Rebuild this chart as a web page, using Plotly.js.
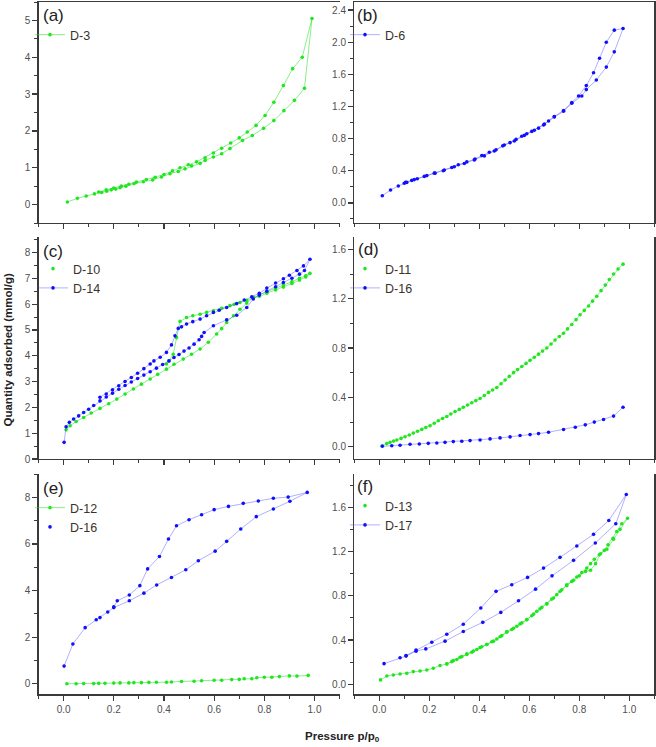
<!DOCTYPE html>
<html>
<head>
<meta charset="utf-8">
<script src="https://cdn.plot.ly/plotly-3.0.1.min.js"></script>
<style>
  html, body { margin: 0; padding: 0; background: #fff; }
  #chart { width: 656px; height: 747px; }
</style>
</head>
<body>
<div id="chart"></div>
<script>
// ---------- isotherm data (pressure p/p0, quantity adsorbed mmol/g) ----------
// each series runs along the adsorption branch and back down the desorption branch

// (a) D-3
const D3_p = [0.015,0.055,0.09,0.123,0.152,0.172,0.19,0.208,0.225,0.248,0.281,0.318,0.355,0.39,0.424,0.457,0.484,0.51,0.544,0.564,0.597,0.63,0.663,0.713,0.752,0.797,0.838,0.878,0.92,0.96,0.99,
              0.951,0.913,0.876,0.838,0.803,0.767,0.732,0.70,0.666,0.63,0.597,0.564,0.53,0.497,0.464,0.434,0.40,0.365,0.33,0.29,0.26,0.23,0.20,0.17,0.14];
const D3_q = [0.07,0.17,0.235,0.29,0.33,0.36,0.40,0.42,0.46,0.50,0.57,0.62,0.67,0.75,0.84,0.90,0.97,1.05,1.12,1.20,1.29,1.38,1.52,1.74,1.875,2.07,2.28,2.55,2.83,3.16,5.05,
              4.0,3.69,3.23,2.78,2.42,2.15,1.97,1.81,1.67,1.53,1.40,1.27,1.16,1.08,1.0,0.915,0.815,0.74,0.68,0.61,0.55,0.50,0.45,0.40,0.34];

// (b) D-6
const D6_p = [0.012,0.045,0.076,0.10,0.11,0.13,0.152,0.19,0.223,0.256,0.29,0.316,0.35,0.383,0.41,0.44,0.467,0.494,0.523,0.547,0.57,0.59,0.61,0.637,0.657,0.677,0.70,0.737,0.77,0.81,0.828,0.868,0.908,0.94,0.975,
              0.94,0.908,0.881,0.857,0.828,0.797,0.77,0.737,0.70,0.66,0.62,0.58,0.54,0.50,0.46,0.42,0.38,0.34,0.30,0.26,0.22,0.18,0.14,0.105];
const D6_q = [0.09,0.16,0.21,0.245,0.255,0.28,0.30,0.34,0.37,0.40,0.44,0.475,0.51,0.545,0.59,0.63,0.66,0.71,0.75,0.79,0.83,0.86,0.89,0.93,0.97,1.02,1.07,1.14,1.24,1.33,1.41,1.53,1.69,1.88,2.17,
              2.15,2.0,1.80,1.62,1.46,1.33,1.25,1.15,1.075,0.98,0.905,0.84,0.77,0.72,0.645,0.585,0.535,0.49,0.45,0.41,0.37,0.33,0.29,0.255];

// (c) D-10
const D10_p = [0.01,0.026,0.05,0.08,0.11,0.145,0.18,0.212,0.245,0.278,0.31,0.345,0.375,0.41,0.44,0.477,0.51,0.544,0.577,0.61,0.63,0.65,0.677,0.703,0.73,0.756,0.78,0.81,0.845,0.876,0.91,0.94,0.965,0.982,
               0.965,0.94,0.91,0.876,0.845,0.81,0.78,0.756,0.73,0.703,0.68,0.663,0.63,0.597,0.57,0.544,0.515,0.49,0.464,0.45,0.437,0.42,0.41];
const D10_q = [1.13,1.29,1.45,1.61,1.78,1.96,2.14,2.32,2.52,2.71,2.90,3.10,3.28,3.48,3.67,3.87,4.06,4.26,4.52,4.84,5.05,5.29,5.55,5.80,6.04,6.26,6.30,6.42,6.55,6.66,6.80,6.93,7.05,7.19,
               7.10,7.0,6.87,6.74,6.62,6.49,6.36,6.24,6.14,6.06,5.99,5.94,5.84,5.74,5.68,5.61,5.55,5.48,5.33,4.70,4.06,3.80,3.68];

// (c) D-14
const D14_p = [0.002,0.01,0.023,0.04,0.06,0.08,0.10,0.12,0.145,0.17,0.195,0.22,0.245,0.27,0.295,0.32,0.345,0.37,0.395,0.42,0.44,0.46,0.48,0.50,0.52,0.54,0.55,0.56,0.597,0.65,0.69,0.73,0.756,0.78,0.81,0.845,0.876,0.91,0.94,0.96,0.982,
               0.956,0.93,0.90,0.876,0.845,0.81,0.78,0.75,0.72,0.69,0.65,0.62,0.597,0.57,0.544,0.515,0.49,0.47,0.457,0.444,0.43,0.41,0.385,0.36,0.345,0.32,0.295,0.27,0.245,0.22,0.195,0.17,0.145];
const D14_q = [0.645,1.25,1.42,1.55,1.67,1.80,1.93,2.07,2.25,2.40,2.55,2.70,2.85,2.98,3.12,3.25,3.38,3.52,3.66,3.80,3.93,4.05,4.18,4.30,4.45,4.62,4.75,4.90,5.16,5.39,5.57,5.87,6.20,6.35,6.50,6.67,6.84,7.00,7.16,7.30,7.74,
               7.48,7.30,7.12,6.98,6.82,6.62,6.42,6.28,6.16,6.02,5.87,5.76,5.68,5.55,5.42,5.32,5.23,5.12,5.06,4.77,4.42,4.13,3.94,3.80,3.68,3.50,3.32,3.16,3.00,2.84,2.68,2.52,2.39];

// (d) D-11
const D11_p = [0.012,0.03,0.043,0.057,0.07,0.087,0.103,0.12,0.136,0.153,0.17,0.186,0.203,0.22,0.236,0.253,0.27,0.286,0.303,0.32,0.336,0.353,0.37,0.386,0.403,0.42,0.437,0.453,0.47,0.487,0.503,0.52,0.537,0.553,0.57,0.587,0.603,0.62,0.637,0.653,0.67,0.687,0.703,0.72,0.737,0.753,0.77,0.787,0.803,0.82,0.837,0.853,0.87,0.887,0.904,0.92,0.937,0.955,0.975];
const D11_q = [0.008,0.025,0.035,0.045,0.054,0.067,0.08,0.095,0.11,0.125,0.14,0.155,0.17,0.19,0.21,0.228,0.245,0.265,0.285,0.302,0.32,0.338,0.356,0.373,0.39,0.415,0.44,0.46,0.48,0.51,0.54,0.57,0.60,0.625,0.65,0.675,0.70,0.725,0.75,0.775,0.80,0.833,0.865,0.893,0.92,0.955,0.99,1.03,1.07,1.105,1.14,1.18,1.22,1.265,1.31,1.355,1.40,1.44,1.48];

// (d) D-16
const D16d_p = [0.012,0.05,0.083,0.123,0.16,0.196,0.23,0.263,0.296,0.33,0.363,0.403,0.443,0.483,0.523,0.563,0.603,0.637,0.677,0.737,0.784,0.824,0.86,0.897,0.937,0.975];
const D16d_q = [0.003,0.008,0.011,0.019,0.022,0.027,0.030,0.035,0.041,0.044,0.049,0.054,0.063,0.071,0.079,0.090,0.098,0.106,0.117,0.139,0.158,0.177,0.199,0.22,0.248,0.32];

// (e) D-12
const D12_p = [0.013,0.05,0.08,0.12,0.14,0.165,0.20,0.225,0.26,0.28,0.31,0.34,0.37,0.41,0.43,0.47,0.52,0.55,0.60,0.63,0.67,0.70,0.72,0.75,0.77,0.80,0.83,0.86,0.90,0.93,0.975];
const D12_q = [0.0,0.0,0.01,0.01,0.02,0.02,0.03,0.04,0.04,0.05,0.05,0.06,0.07,0.07,0.08,0.10,0.11,0.13,0.15,0.15,0.18,0.19,0.22,0.22,0.26,0.28,0.28,0.31,0.34,0.33,0.36];

// (e) D-16
const D16e_p = [0.002,0.037,0.086,0.13,0.145,0.176,0.20,0.262,0.32,0.371,0.43,0.487,0.537,0.604,0.65,0.706,0.768,0.836,0.902,0.971,
                0.895,0.836,0.776,0.716,0.657,0.60,0.55,0.50,0.45,0.418,0.382,0.335,0.304,0.262,0.214,0.20];
const D16e_q = [0.76,1.71,2.41,2.75,2.84,3.08,3.27,3.56,3.89,4.24,4.56,4.89,5.28,5.69,6.11,6.64,7.17,7.50,7.83,8.21,
                8.01,7.96,7.84,7.74,7.61,7.47,7.25,7.04,6.78,6.21,5.46,4.93,4.21,3.81,3.56,3.30];

// (f) D-13
const D13_p = [0.005,0.03,0.056,0.083,0.11,0.136,0.163,0.19,0.216,0.243,0.27,0.296,0.323,0.35,0.376,0.403,0.43,0.457,0.483,0.51,0.537,0.563,0.59,0.617,0.643,0.67,0.697,0.723,0.75,0.777,0.80,0.825,0.845,0.865,0.885,0.91,0.937,0.963,0.993,
               0.97,0.95,0.935,0.915,0.90,0.88,0.86,0.845,0.83,0.81,0.79,0.77,0.75,0.73,0.71,0.69,0.67,0.65,0.63,0.61,0.59,0.57,0.55,0.53,0.51,0.49,0.47,0.45,0.43,0.41,0.39,0.37,0.35,0.33,0.31,0.29,0.27];
const D13_q = [0.04,0.075,0.085,0.094,0.10,0.115,0.12,0.13,0.145,0.17,0.184,0.214,0.245,0.275,0.30,0.332,0.36,0.39,0.43,0.477,0.507,0.546,0.583,0.634,0.682,0.725,0.78,0.84,0.90,0.94,0.98,1.02,1.03,1.09,1.18,1.22,1.31,1.40,1.50,
               1.45,1.38,1.32,1.26,1.21,1.17,1.13,1.09,1.05,1.01,0.97,0.93,0.89,0.855,0.81,0.77,0.73,0.695,0.66,0.62,0.585,0.555,0.525,0.495,0.47,0.44,0.41,0.385,0.36,0.34,0.315,0.29,0.27,0.25,0.225,0.205,0.185];

// (f) D-17
const D17_p = [0.019,0.083,0.107,0.147,0.186,0.263,0.336,0.414,0.486,0.557,0.625,0.691,0.777,0.864,0.946,0.988,
               0.918,0.857,0.79,0.723,0.657,0.593,0.53,0.467,0.406,0.336,0.27,0.21,0.147,0.107];
const D17_q = [0.187,0.24,0.255,0.30,0.32,0.39,0.477,0.56,0.65,0.755,0.86,0.98,1.12,1.277,1.45,1.715,
               1.48,1.355,1.25,1.147,1.05,0.966,0.90,0.84,0.69,0.543,0.453,0.38,0.31,0.26];

// tick labels
const pressureTicks = [0.0, 0.2, 0.4, 0.6, 0.8, 1.0];
const panelTags = ['(a)', '(b)', '(c)', '(d)', '(e)', '(f)'];

// ---------- styling ----------
const W = 656, H = 747;
const GREEN = '#1fe61f', GREEN_LINE = 'rgba(40,225,40,0.55)';
const BLUE = '#1010ff', BLUE_LINE = 'rgba(80,80,255,0.45)';
const FONT = 'Liberation Sans, Arial, sans-serif';
const MS = 3.6;                 // marker diameter
const px = v => v / W;          // horizontal pixel -> paper fraction
const py = v => 1 - v / H;      // vertical pixel -> paper fraction

// trace with line and markers, shown in legend as line + dot
function lineMarker(name, x, y, xa, ya, col, lineCol, legend) {
  return { type: 'scatter', mode: 'lines+markers', name, x, y, xaxis: xa, yaxis: ya,
    legend, line: { color: lineCol, width: 1 }, marker: { color: col, size: MS } };
}
// markers-only legend entry plus a faint connecting line without legend
function dotsWithLine(name, x, y, xa, ya, col, lineCol, legend) {
  return [
    { type: 'scatter', mode: 'lines', x, y, xaxis: xa, yaxis: ya, showlegend: false,
      hoverinfo: 'skip', line: { color: lineCol, width: 1 } },
    { type: 'scatter', mode: 'markers', name, x, y, xaxis: xa, yaxis: ya,
      legend, marker: { color: col, size: MS } }
  ];
}

const traces = [
  lineMarker('D-3', D3_p, D3_q, 'x', 'y', GREEN, GREEN_LINE, 'legend'),
  lineMarker('D-6', D6_p, D6_q, 'x2', 'y2', BLUE, BLUE_LINE, 'legend2'),
  ...dotsWithLine('D-10', D10_p, D10_q, 'x3', 'y3', GREEN, GREEN_LINE, 'legend3'),
  lineMarker('D-14', D14_p, D14_q, 'x3', 'y3', BLUE, BLUE_LINE, 'legend3'),
  ...dotsWithLine('D-11', D11_p, D11_q, 'x4', 'y4', GREEN, GREEN_LINE, 'legend4'),
  lineMarker('D-16', D16d_p, D16d_q, 'x4', 'y4', BLUE, BLUE_LINE, 'legend4'),
  lineMarker('D-12', D12_p, D12_q, 'x5', 'y5', GREEN, GREEN_LINE, 'legend5'),
  ...dotsWithLine('D-16', D16e_p, D16e_q, 'x5', 'y5', BLUE, BLUE_LINE, 'legend5'),
  ...dotsWithLine('D-13', D13_p, D13_q, 'x6', 'y6', GREEN, GREEN_LINE, 'legend6'),
  lineMarker('D-17', D17_p, D17_q, 'x6', 'y6', BLUE, BLUE_LINE, 'legend6')
];

function axisBase(extra) {
  return Object.assign({
    showline: true, linecolor: '#3a3a3a', linewidth: 1.3,
    ticks: 'outside', ticklen: 5, tickwidth: 1.2, tickcolor: '#3a3a3a',
    showgrid: false, zeroline: false, fixedrange: true,
    tickfont: { family: FONT, size: 10, color: '#505050' }
  }, extra);
}
function xAxis(anchor, domain, labels, mirror) {
  return axisBase({ anchor, domain, range: [-0.1, 1.1], tickmode: 'array',
    tickvals: pressureTicks, ticktext: pressureTicks.map(v => v.toFixed(1)),
    showticklabels: labels, mirror,
    minor: { ticks: 'outside', ticklen: 3, tickwidth: 1, tickcolor: '#3a3a3a', dtick: 0.1, tick0: 0 } });
}
function yAxis(anchor, domain, range, dtick, minor, fmt, mirror) {
  return axisBase({ anchor, domain, range, tick0: 0, dtick, tickformat: fmt, mirror,
    minor: { ticks: 'outside', ticklen: 3, tickwidth: 1, tickcolor: '#3a3a3a', dtick: minor, tick0: 0 } });
}

const colL = [px(38.5), px(339.6)], colR = [px(354.3), px(654.3)];
const row1 = [py(223), py(2)], row2 = [py(459), py(237)], row3 = [py(694.3), py(474)];

function legendAt(x, y) {
  return { x: px(x), y: py(y), xanchor: 'left', yanchor: 'top', bgcolor: 'rgba(0,0,0,0)',
    borderwidth: 0, font: { family: FONT, size: 12.5, color: '#3b332b' }, itemclick: false, itemdoubleclick: false };
}

const tagPos = [[40.5, 15], [355, 15], [41, 251.5], [356, 250], [40.5, 488], [355, 486.5]];
const annotations = panelTags.map((t, i) => ({
  text: t, xref: 'paper', yref: 'paper', x: px(tagPos[i][0]), y: py(tagPos[i][1]),
  xanchor: 'left', yanchor: 'middle', showarrow: false,
  font: { family: FONT, size: 17, color: '#222' }
}));
annotations.push({
  text: 'Quantity adsorbed (mmol/g)', xref: 'paper', yref: 'paper', x: px(7.5), y: py(350),
  textangle: -90, showarrow: false, xanchor: 'center', yanchor: 'middle',
  font: { family: FONT, size: 11.5, color: '#222', weight: 'bold' }
});
annotations.push({
  text: '<b>Pressure p/p<sub>0</sub></b>', xref: 'paper', yref: 'paper', x: px(342), y: py(737),
  showarrow: false, xanchor: 'center', yanchor: 'middle',
  font: { family: FONT, size: 11.5, color: '#222' }
});

const layout = {
  width: W, height: H, margin: { l: 0, r: 0, t: 0, b: 0 },
  paper_bgcolor: '#fff', plot_bgcolor: '#fff', showlegend: true,
  xaxis:  xAxis('y',  colL, false, true),
  xaxis2: xAxis('y2', colR, false, true),
  xaxis3: xAxis('y3', colL, false, false),
  xaxis4: xAxis('y4', colR, false, false),
  xaxis5: xAxis('y5', colL, true, false),
  xaxis6: xAxis('y6', colR, true, false),
  yaxis:  yAxis('x',  row1, [-0.5, 5.5], 1, 0.5, 'd', false),
  yaxis2: yAxis('x2', row1, [-0.25, 2.5], 0.4, 0.2, '.1f', true),
  yaxis3: yAxis('x3', row2, [0, 8.6], 1, 0.5, 'd', false),
  yaxis4: yAxis('x4', row2, [-0.1, 1.7], 0.4, 0.2, '.1f', true),
  yaxis5: yAxis('x5', row3, [-0.45, 9.0], 2, 1, 'd', false),
  yaxis6: yAxis('x6', row3, [-0.09, 1.9], 0.4, 0.2, '.1f', true),
  legend:  legendAt(30, 20),
  legend2: legendAt(345, 20),
  legend3: legendAt(33, 254),
  legend4: legendAt(345, 254),
  legend5: legendAt(30, 493),
  legend6: legendAt(345, 491),
  annotations
};

Plotly.newPlot('chart', traces, layout, { displayModeBar: false, staticPlot: true });
</script>
</body>
</html>
